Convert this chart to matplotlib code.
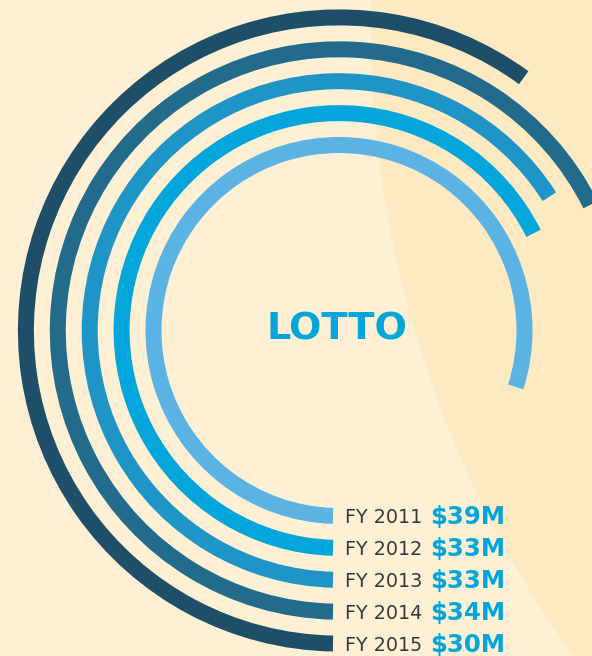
import numpy as np
import matplotlib
matplotlib.use("Agg")
import matplotlib.pyplot as plt
from matplotlib.patches import Circle

# data
years = ["FY 2011", "FY 2012", "FY 2013", "FY 2014", "FY 2015"]
amounts = [39.0, 33.0, 32.2, 33.0, 29.3]      # arc length, $M
amount_labels = ["$39M", "$33M", "$33M", "$34M", "$30M"]
full_turn = 48.8                               # $M for a full circle
colors = ["#5ab3e3", "#03a5da", "#1f95c7", "#236b8b", "#1f4e69"]

W, H = 592, 656
cx, cy = 339, 330.5        # ring centre in pixels (from top)
r_inner, r_step, band = 185.5, 31.9, 16
bar_start_x = 333          # bars start on this vertical line

bg_light = "#fdf0d4"
bg_dark = "#fde9c2"
blue = "#03a5da"
label_grey = "#363a40"


def main():
    fig = plt.figure(figsize=(W / 100, H / 100), dpi=100)
    fig.patch.set_facecolor(bg_light)

    # background layer in pixel coordinates
    bg = fig.add_axes([0, 0, 1, 1])
    bg.set_xlim(0, W)
    bg.set_ylim(H, 0)
    bg.set_axis_off()
    bg.add_patch(Circle((1446, 28), 1075, facecolor=bg_dark, edgecolor="none"))

    # polar axes, one data unit = one pixel
    rmax = 330
    ax = fig.add_axes([(cx - rmax) / W, (H - cy - rmax) / H, 2 * rmax / W, 2 * rmax / H],
                      projection="polar")
    ax.set_theta_zero_location("S")
    ax.set_theta_direction(-1)
    ax.set_ylim(0, rmax)
    ax.set_axis_off()

    radii = r_inner + r_step * np.arange(len(years))
    for i in range(len(years)):
        r = radii[i]
        start = np.arcsin((cx - bar_start_x) / r)
        end = amounts[i] / full_turn * 2 * np.pi
        ax.bar(start, band, width=end - start, bottom=r - band / 2,
               align="edge", color=colors[i], linewidth=0)

        y = cy + r
        bg.text(345, y + 7, years[i], fontsize=13.8, color=label_grey,
                ha="left", va="baseline", family="DejaVu Sans")
        bg.text(430, y + 8, amount_labels[i], fontsize=17.6, color=blue,
                fontweight="bold", ha="left", va="baseline", family="DejaVu Sans")

    bg.text(337, 329, "LOTTO", fontsize=27.5, color=blue, fontweight="bold",
            ha="center", va="center", family="DejaVu Sans")

    fig.savefig("out.png", dpi=100, facecolor=bg_light)
    plt.close(fig)


if __name__ == "__main__":
    main()
